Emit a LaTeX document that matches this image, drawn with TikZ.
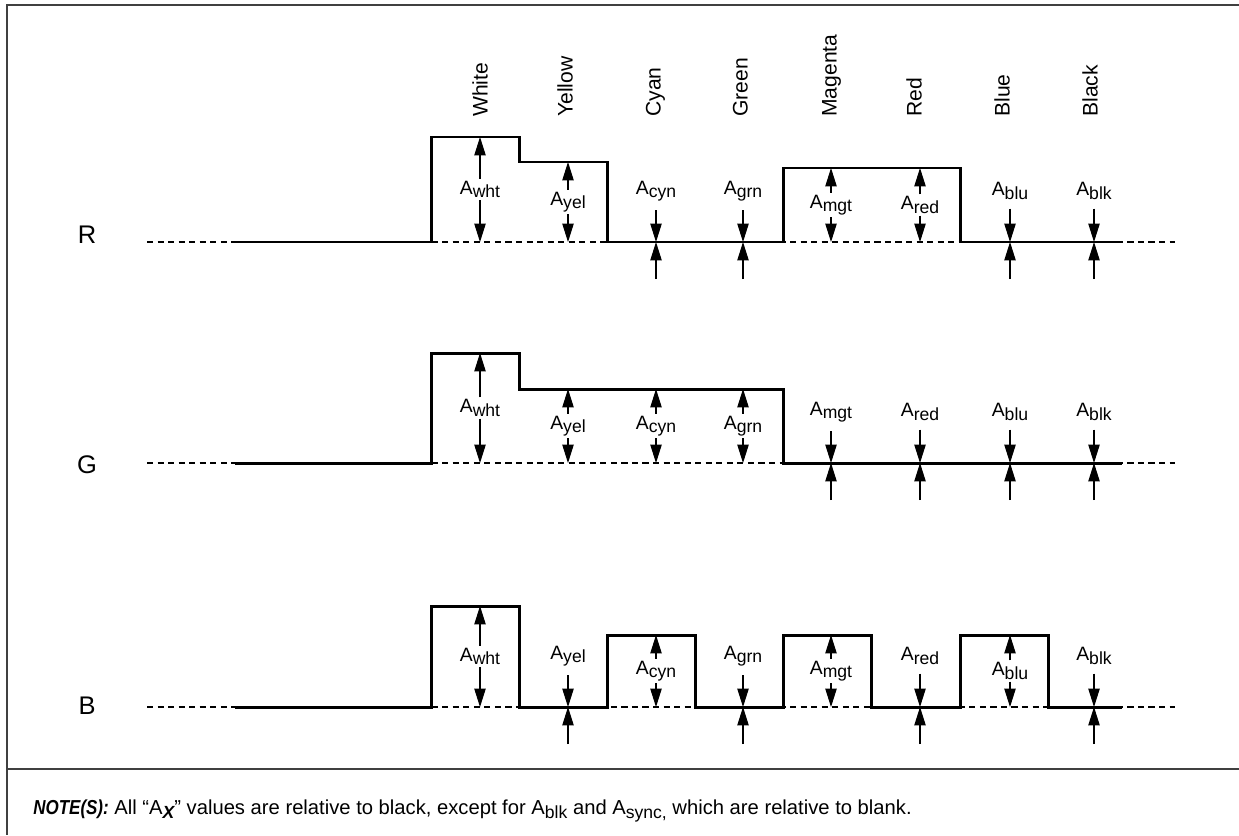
\documentclass[tikz,border=0pt]{standalone}
\usepackage{fontspec}
\setmainfont{Liberation Sans}
\newfontfamily\notefont[FakeStretch=0.84]{Liberation Sans}
\usetikzlibrary{arrows.meta}

% subscript of an amplitude label
\newcommand{\sub}[1]{\raisebox{-2pt}{\fontsize{10}{10}\selectfont #1}}
\newcommand{\notesub}[1]{\raisebox{-2.5pt}{\fontsize{10}{10}\selectfont #1}}

% amplitude mark: x, level, base, subscript, name
\newcommand{\ampmark}[5]{%
  \ifnum#2=#3\relax
    \node[amp] (#5) at (#1,#3-51) {A\sub{#4}};
    \coordinate (#5b) at (#1,#3);
    \coordinate (#5l) at (#1,#3+37);
    \draw[dim, shorten <=4pt] (#5) -- (#5b);
    \draw[dim] (#5l) -- (#5b);
  \else
    \node[amp] (#5) at (#1,{(#2+#3)/2}) {A\sub{#4}};
    \coordinate (#5t) at (#1,#2);
    \coordinate (#5b) at (#1,#3);
    \draw[dim] (#5) -- (#5t);
    \draw[dim] (#5) -- (#5b);
  \fi
}

\begin{document}
\begin{tikzpicture}[x=0.02cm, y=-0.02cm]
\tikzset{
  sig/.style = {line width=1.7pt, line join=miter},
  zeroline/.style = {line width=0.6pt, dash pattern=on 3.5pt off 2.5pt},
  dim/.style = {line width=0.6pt, -{Triangle[length=10.5pt, width=6.5pt]}},
  amp/.style = {font=\fontsize{11}{12}\selectfont, inner sep=1pt},
  colname/.style = {rotate=90, anchor=mid west, inner sep=0pt,
                    font=\fontsize{12}{14}\selectfont},
  chan/.style = {font=\fontsize{14.5}{16}\selectfont},
  frame/.style = {line width=0.9pt, black!75},
}
\useasboundingbox (0,0) rectangle (1239,835);

  % frame and note
  \draw[frame] (1239,5) -- (7,5) -- (7,835);
  \draw[frame] (7,769) -- (1239,769);
  \node[anchor=base west, inner sep=0pt,
        font=\fontsize{11.5}{13}\selectfont] (note) at (33,814)
    {{\notefont\bfseries\itshape NOTE(S):} All “A\notesub{\bfseries\itshape X}”
     values are relative to black, except for A\notesub{blk} and
     A\notesub{sync,} which are relative to blank.};

  % channels
  \node[chan] (R) at (87,235) {R};
  \node[chan] (G) at (87,465) {G};
  \node[chan] (B) at (87,706) {B};

  \draw[zeroline] (147,242) -- (1175,242);
  \draw[zeroline] (147,463) -- (1175,463);
  \draw[zeroline] (147,707) -- (1175,707);

  \draw[sig] (235,242) -- (431,242) -- (431,137) -- (519,137) -- (519,162)
    -- (607,162) -- (607,242) -- (783,242) -- (783,168) -- (960,168)
    -- (960,242) -- (1122,242);
  \draw[sig] (235,463) -- (431,463) -- (431,353) -- (519,353) -- (519,389)
    -- (783,389) -- (783,463) -- (1122,463);
  \draw[sig] (235,707) -- (431,707) -- (431,606) -- (519,606) -- (519,707)
    -- (607,707) -- (607,635) -- (695,635) -- (695,707) -- (783,707)
    -- (783,635) -- (871,635) -- (871,707) -- (960,707) -- (960,635)
    -- (1048,635) -- (1048,707) -- (1122,707);

  % bars
  \foreach \x/\tx/\nm/\lab/\r/\g/\b in {
      480/483/White/wht/137/353/606, 568/568/Yellow/yel/162/389/707,
      656/656/Cyan/cyn/242/389/635, 743/743/Green/grn/242/389/707,
      831/832/Magenta/mgt/168/463/635, 920/917/Red/red/168/463/707,
      1010/1005/Blue/blu/242/463/635, 1094/1093/Black/blk/242/463/707}{
    \node[colname] (col\lab) at (\tx,117) {\nm};
    \ampmark{\x}{\r}{242}{\lab}{R\lab}
    \ampmark{\x}{\g}{463}{\lab}{G\lab}
    \ampmark{\x}{\b}{707}{\lab}{B\lab}
  }

\end{tikzpicture}
\end{document}
